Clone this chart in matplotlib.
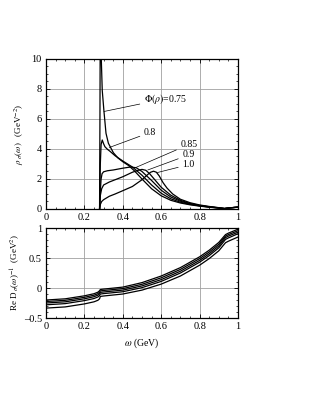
import numpy as np
import matplotlib
matplotlib.use("Agg")
import matplotlib.pyplot as plt
from matplotlib.ticker import MultipleLocator, FuncFormatter

# spectral function rho_sigma(omega) for Phi(rho) = 0.75 ... 1.0
w75 = [0.279, 0.281, 0.2825, 0.285, 0.288, 0.293, 0.302, 0.3125, 0.325, 0.351, 0.375, 0.40, 0.43, 0.46,
       0.50, 0.55, 0.60, 0.65, 0.70, 0.75, 0.80, 0.85, 0.90, 0.93, 0.96, 1.0]
r75 = [0.0, 6.0, 12.0, 12.0, 10.0, 7.9, 6.5, 5.05, 4.38, 3.75, 3.4, 3.15, 2.9, 2.55,
       2.0, 1.35, 0.88, 0.58, 0.40, 0.28, 0.19, 0.12, 0.06, 0.03, 0.08, 0.12]
w80 = [0.279, 0.283, 0.287, 0.293, 0.300, 0.307, 0.32, 0.333, 0.36, 0.40, 0.45, 0.50, 0.55, 0.60,
       0.65, 0.70, 0.75, 0.80, 0.85, 0.90, 0.93, 0.96, 1.0]
r80 = [0.0, 3.0, 4.3, 4.6, 4.35, 4.15, 3.98, 3.85, 3.55, 3.2, 2.8, 2.25, 1.6, 1.05,
       0.68, 0.45, 0.31, 0.21, 0.13, 0.07, 0.03, 0.08, 0.12]
w85 = [0.279, 0.283, 0.287, 0.292, 0.30, 0.32, 0.35, 0.40, 0.44, 0.47, 0.50, 0.55, 0.60, 0.65,
       0.70, 0.75, 0.80, 0.85, 0.90, 0.93, 0.96, 1.0]
r85 = [0.0, 1.2, 2.0, 2.35, 2.48, 2.55, 2.6, 2.72, 2.8, 2.75, 2.5, 1.9, 1.25, 0.8,
       0.52, 0.34, 0.22, 0.14, 0.07, 0.03, 0.08, 0.12]
w90 = [0.279, 0.283, 0.29, 0.30, 0.33, 0.36, 0.40, 0.45, 0.48, 0.50, 0.52, 0.54, 0.57, 0.60,
       0.65, 0.70, 0.75, 0.80, 0.85, 0.90, 0.93, 0.96, 1.0]
r90 = [0.0, 0.9, 1.35, 1.6, 1.8, 1.95, 2.15, 2.45, 2.58, 2.64, 2.58, 2.35, 1.9, 1.45,
       0.92, 0.58, 0.37, 0.24, 0.15, 0.08, 0.03, 0.08, 0.12]
w100 = [0.279, 0.283, 0.29, 0.30, 0.33, 0.36, 0.40, 0.45, 0.50, 0.53, 0.545, 0.56, 0.575, 0.59, 0.61,
        0.63, 0.66, 0.70, 0.75, 0.80, 0.85, 0.90, 0.93, 0.96, 1.0]
r100 = [0.0, 0.3, 0.5, 0.62, 0.85, 1.0, 1.22, 1.5, 1.95, 2.3, 2.45, 2.52, 2.45, 2.2, 1.75,
        1.4, 1.0, 0.65, 0.42, 0.27, 0.17, 0.09, 0.03, 0.08, 0.13]

# inverse propagator Re D_sigma(omega)^-1
wb = [0, 0.1, 0.2, 0.25, 0.27, 0.279, 0.283, 0.3, 0.4, 0.5, 0.6, 0.7, 0.8, 0.85, 0.9, 0.935, 0.95, 1.0]
dA = [-0.200, -0.180, -0.130, -0.095, -0.070, -0.045, -0.025, -0.018, 0.015, 0.090, 0.200, 0.340, 0.520, 0.630, 0.760, 0.890, 0.915, 0.980]
dB = [-0.225, -0.205, -0.155, -0.120, -0.095, -0.070, -0.048, -0.041, -0.010, 0.062, 0.170, 0.310, 0.490, 0.600, 0.730, 0.865, 0.890, 0.955]
dC = [-0.250, -0.230, -0.180, -0.145, -0.120, -0.095, -0.073, -0.066, -0.035, 0.035, 0.140, 0.280, 0.460, 0.570, 0.700, 0.840, 0.865, 0.930]
dD = [-0.280, -0.260, -0.210, -0.175, -0.150, -0.125, -0.100, -0.093, -0.062, 0.006, 0.110, 0.250, 0.430, 0.540, 0.670, 0.810, 0.835, 0.905]
dE = [-0.335, -0.315, -0.265, -0.230, -0.205, -0.180, -0.140, -0.133, -0.100, -0.035, 0.065, 0.200, 0.380, 0.490, 0.620, 0.755, 0.780, 0.850]

labels = [r"$\Phi(\rho)$=0.75", "0.8", "0.85", "0.9", "1.0"]
label_xy = [(0.51, 7.35), (0.51, 5.1), (0.70, 4.3), (0.71, 3.6), (0.71, 2.95)]
point_xy = [(0.302, 6.5), (0.33, 4.1), (0.47, 2.78), (0.53, 2.6), (0.58, 2.43)]

plt.rcParams.update({"font.family": "Liberation Serif", "font.size": 7.5,
                     "mathtext.fontset": "stix", "axes.linewidth": 0.9})

fig = plt.figure(figsize=(3.23, 4.18), dpi=100)
ax1 = fig.add_axes([0.1424, 0.5, 0.5944, 0.3589])
ax2 = fig.add_axes([0.1424, 0.2392, 0.5944, 0.2153])

fmt = FuncFormatter(lambda v, p: ("%g" % v).replace("-", "\u2013"))
for a in (ax1, ax2):
    a.set_xlim(0, 1)
    a.xaxis.set_major_locator(MultipleLocator(0.2)); a.xaxis.set_minor_locator(MultipleLocator(0.05))
    a.xaxis.set_major_formatter(fmt); a.yaxis.set_major_formatter(fmt)
    a.grid(True, which="major", color="#a0a0a0", lw=0.6)
    a.tick_params(which="both", direction="in", top=True, right=True, labelsize=7.5, pad=3)
    a.tick_params(which="major", length=3, width=0.6)
    a.tick_params(which="minor", length=1.6, width=0.5)
    a.set_axisbelow(True)

for w, r in [(w75, r75), (w80, r80), (w85, r85), (w90, r90), (w100, r100)]:
    ax1.plot(w, r, color="black", lw=0.9)
ax1.set_ylim(0, 10)
ax1.yaxis.set_major_locator(MultipleLocator(2)); ax1.yaxis.set_minor_locator(MultipleLocator(0.5))
ax1.set_ylabel(r"$\rho_{\ \sigma}(\omega)$   (GeV$^{-2}$)", fontsize=6.5, labelpad=4)
for txt, lxy, pxy in zip(labels, label_xy, point_xy):
    ax1.annotate(txt, xy=pxy, xytext=lxy, fontsize=7, va="center", ha="left",
                 arrowprops=dict(arrowstyle="-", lw=0.5, color="black", shrinkA=1, shrinkB=0))

for d in (dA, dB, dC, dD, dE):
    ax2.plot(wb, d, color="black", lw=0.9)
ax2.set_ylim(-0.5, 1)
ax2.yaxis.set_major_locator(MultipleLocator(0.5)); ax2.yaxis.set_minor_locator(MultipleLocator(0.1))
ax2.set_ylabel(r"Re D$_{\ \sigma}$($\omega$)$^{-1}$  (GeV$^{2}$)", fontsize=6.5, labelpad=1)
ax2.set_xlabel(r"$\omega$ (GeV)", fontsize=7, labelpad=4)

fig.savefig("out.png", dpi=100)
